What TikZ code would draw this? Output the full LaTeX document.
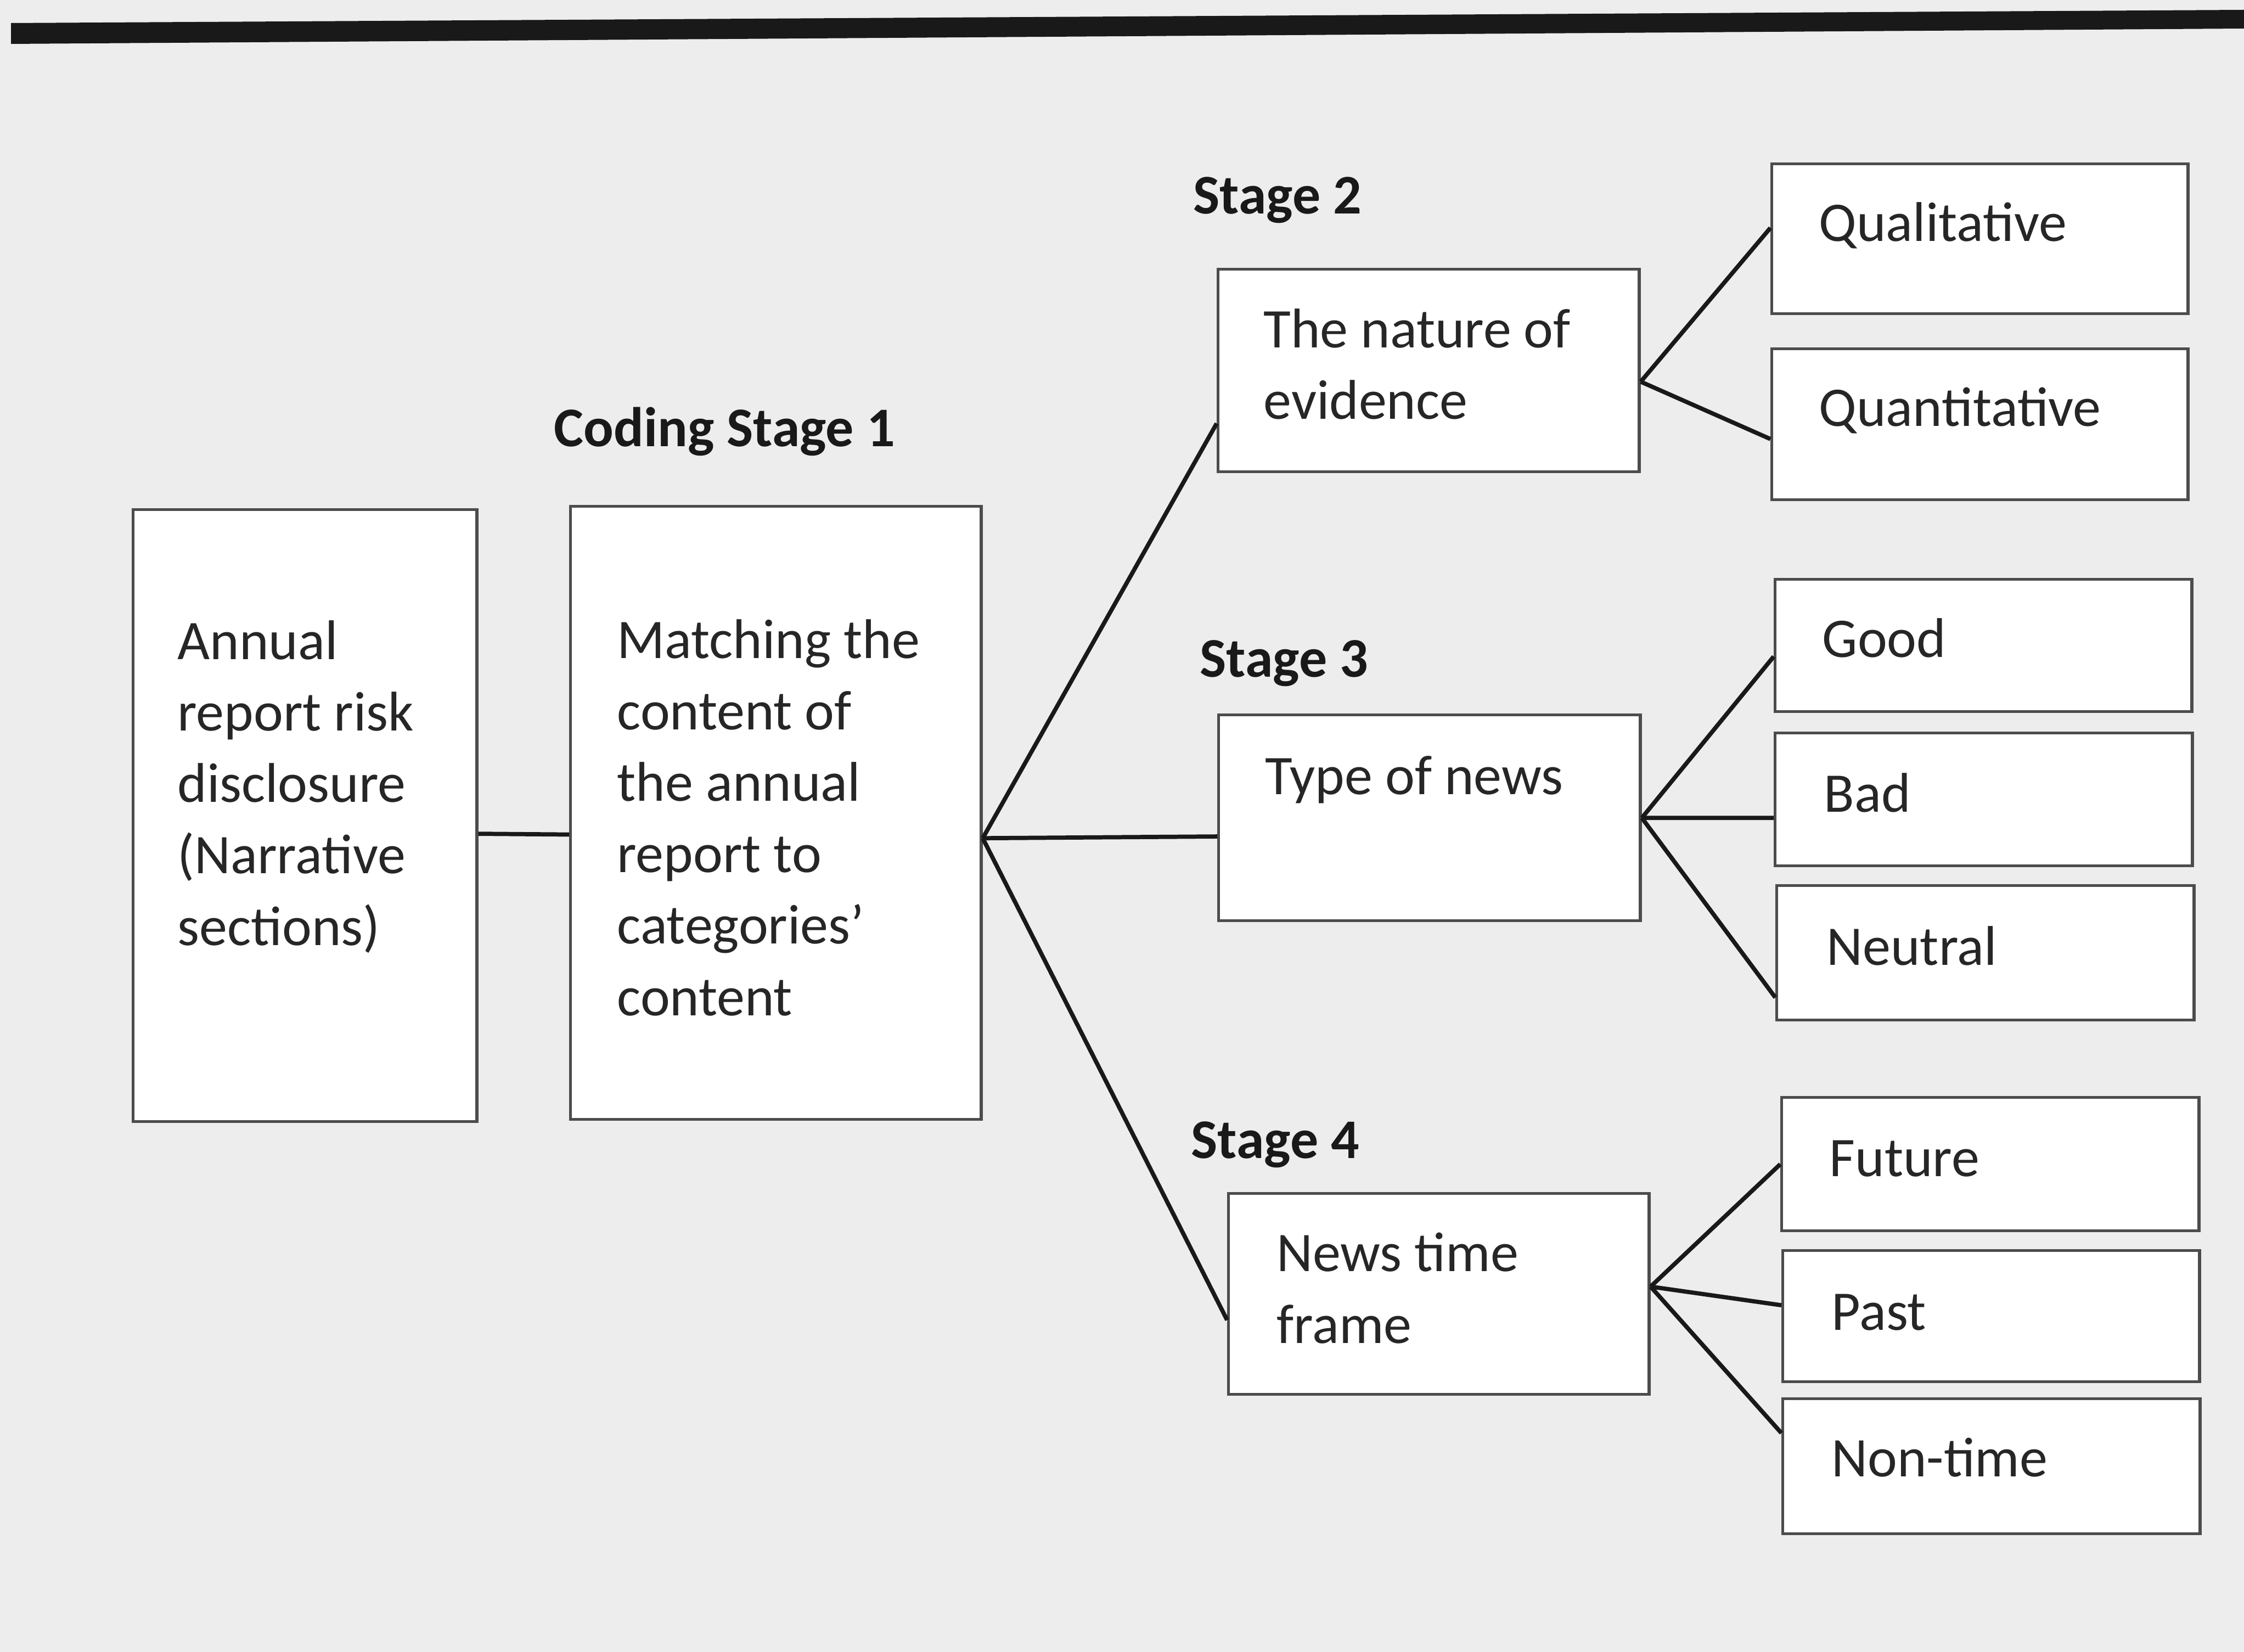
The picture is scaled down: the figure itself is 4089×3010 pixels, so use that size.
\documentclass[tikz,border=0pt]{standalone}
\usepackage{fontspec}
\setmainfont{Carlito}
\usepackage{xcolor}
\usepackage{tikz}
\usetikzlibrary{positioning, calc}

\begin{document}
\begin{tikzpicture}[
        x=0.01cm, y=-0.01cm,
        font=\fontsize{29}{37}\selectfont,
        % Style for the outlined boxes
        stagebox/.style={
            draw=black!70,
            fill=white,
            line width=1.5pt,
            anchor=north west,
            inner sep=0pt
        },
        % Style for the text inside the boxes (placed on its last baseline)
        boxtext/.style={
            anchor=base west,
            align=left,
            inner sep=0pt,
            text=black!85
        },
        % Style for the bold stage headings
        stagelabel/.style={
            anchor=base west,
            inner sep=0pt,
            font=\fontsize{29}{37}\selectfont\bfseries,
            text=black!90
        },
        % Style for the connecting lines
        link/.style={
            line width=2.2pt,
            black!90
        }
    ]

    % page background and top rule
    \fill[black!7] (0,0) rectangle (4089,3010);
    \useasboundingbox (0,0) rectangle (4089,3010);
    \fill[black!90] (20,42) -- (4089,18) -- (4089,52) -- (20,80) -- cycle;

    % ==========================================
    % CODING STAGE 1
    % ==========================================
    \node[stagebox, minimum width=6.26cm, minimum height=11.14cm] (ann) at (240,926) {};
    \node[stagebox, minimum width=7.48cm, minimum height=11.16cm] (match) at (1037,920) {};
    \node[stagelabel] (coding) at (1009,814) {Coding Stage 1};

    \node[boxtext] (anntext) at (323,1722) {Annual\\report risk\\disclosure\\(Narrative\\sections)};
    \node[boxtext] (matchtext) at (1124,1850) {Matching the\\content of\\the annual\\report to\\categories'\\content};

    % ==========================================
    % STAGES 2 - 4
    % ==========================================
    \node[stagebox, minimum width=7.67cm, minimum height=3.69cm] (evid) at (2217,488) {};
    \node[stagebox, minimum width=7.68cm, minimum height=3.75cm] (news) at (2218,1300) {};
    \node[stagebox, minimum width=7.66cm, minimum height=3.66cm] (time) at (2236,2172) {};

    \node[stagelabel] (stage2) at (2174,390) {Stage 2};
    \node[stagelabel] (stage3) at (2186,1234) {Stage 3};
    \node[stagelabel] (stage4) at (2170,2110) {Stage 4};

    \node[boxtext] (evidtext) at (2302,764) {The nature of\\evidence};
    \node[boxtext] (newstext) at (2305,1448) {Type of news};
    \node[boxtext] (timetext) at (2326,2447) {News time\\frame};

    % ==========================================
    % CATEGORIES
    % ==========================================
    \node[stagebox, minimum width=7.58cm, minimum height=2.73cm] (qual) at (3226,296) {};
    \node[stagebox, minimum width=7.58cm, minimum height=2.75cm] (quant) at (3226,633) {};
    \node[stagebox, minimum width=7.59cm, minimum height=2.41cm] (good) at (3232,1053) {};
    \node[stagebox, minimum width=7.60cm, minimum height=2.42cm] (bad) at (3232,1333) {};
    \node[stagebox, minimum width=7.60cm, minimum height=2.45cm] (neut) at (3235,1611) {};
    \node[stagebox, minimum width=7.60cm, minimum height=2.43cm] (fut) at (3244,1997) {};
    \node[stagebox, minimum width=7.59cm, minimum height=2.39cm] (past) at (3246,2276) {};
    \node[stagebox, minimum width=7.60cm, minimum height=2.46cm] (nont) at (3246,2546) {};

    \node[boxtext] (qualtext) at (3314,440) {Qualitative};
    \node[boxtext] (quanttext) at (3314,777) {Quantitative};
    \node[boxtext] (goodtext) at (3320,1198) {Good};
    \node[boxtext] (badtext) at (3323,1479) {Bad};
    \node[boxtext] (neuttext) at (3328,1758) {Neutral};
    \node[boxtext] (futtext) at (3333,2143) {Future};
    \node[boxtext] (pasttext) at (3337,2423) {Past};
    \node[boxtext] (nonttext) at (3337,2690) {Non-time};

    % connectors
    \draw[link] (ann.-6) -- (match.186);
    \draw[link] (match.-7) -- (evid.194);
    \draw[link] (match.-7) -- (news.185);
    \draw[link] (match.-7) -- (time.187);

    \draw[link] (evid.-3) -- (qual.177);
    \draw[link] (evid.-3) -- (quant.184);
    \draw[link] (news.east) -- (good.183);
    \draw[link] (news.east) -- (bad.185);
    \draw[link] (news.east) -- (neut.192);
    \draw[link] (time.2) -- (fut.west);
    \draw[link] (time.2) -- (past.177);
    \draw[link] (time.2) -- (nont.171);
  \end{tikzpicture}
\end{document}
